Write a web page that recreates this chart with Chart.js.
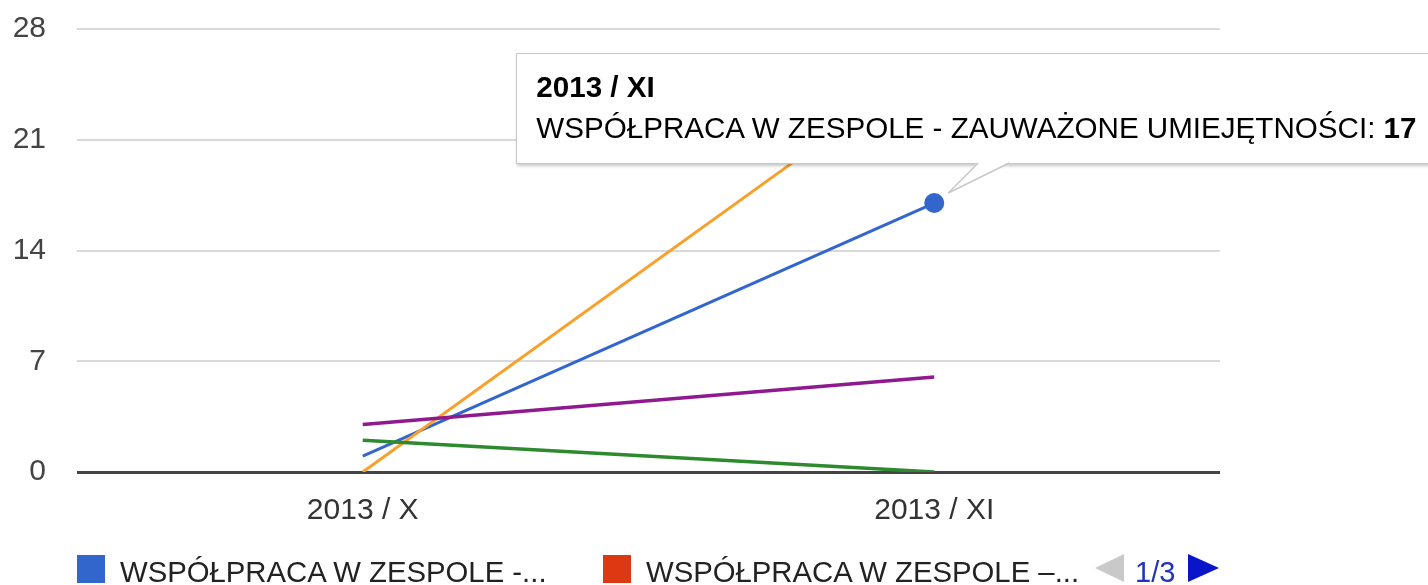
<!DOCTYPE html>
<html><head><meta charset="utf-8">
<script src="https://cdn.jsdelivr.net/npm/chart.js@4/dist/chart.umd.min.js"></script>
<style>
html,body{margin:0;padding:0;background:#fff;overflow:hidden;width:1428px;height:585px;}
#wrap{position:relative;width:1428px;height:585px;font-family:Arial,"Liberation Sans",sans-serif;overflow:hidden;}
#c{position:absolute;left:0;top:0;}
#tipBox{position:absolute;display:none;background:#fff;border:1px solid #c8c8c8;box-shadow:1px 2px 3px rgba(0,0,0,0.22);padding:12px 19px 15px 19px;white-space:nowrap;font-size:29.6px;line-height:41px;color:#000;}
#tipTitle{font-weight:bold;}
#tipTail{position:absolute;left:0;top:0;pointer-events:none;}
.lgBox{position:absolute;top:555px;width:28px;height:28px;}
.lgText{position:absolute;top:557px;font-size:29.3px;line-height:30px;color:#222;white-space:nowrap;}
#pgPrev{position:absolute;left:1095px;top:554px;width:0;height:0;border-top:14px solid transparent;border-bottom:14px solid transparent;border-right:29px solid #c9c9c9;}
#pgText{position:absolute;left:1135px;top:557px;font-size:29px;line-height:30px;color:#2233bb;}
#pgNext{position:absolute;left:1188px;top:554px;width:0;height:0;border-top:14px solid transparent;border-bottom:14px solid transparent;border-left:31px solid #0a14c8;}
</style></head><body>
<div id="wrap">
<canvas id="c" width="1428" height="585"></canvas>
<div id="legend"></div>
<div id="tipBox"><div id="tipTitle"></div><div id="tipBody"><span id="tipLabel"></span><b id="tipVal"></b></div></div>
<svg id="tipTail" width="1428" height="585"></svg>
</div>
<script>
// ---- data ----
const categories = ['2013 / X', '2013 / XI'];
const seriesNames = [
  'WSPÓŁPRACA W ZESPOLE - ZAUWAŻONE UMIEJĘTNOŚCI',
  'WSPÓŁPRACA W ZESPOLE –...',
  'Seria 3',
  'Seria 4',
  'Seria 5'
];
const blueValues = [1, 17];
const redValues = [null, null];
const orangeValues = [0, 26];
const greenValues = [2, 0];
const purpleValues = [3, 6];
const yTicks = [0, 7, 14, 21, 28];
const legendTexts = ['WSPÓŁPRACA W ZESPOLE -...', 'WSPÓŁPRACA W ZESPOLE –...'];
const legendPage = '1/3';
const activeSeries = 0;
const activeIndex = 1;

// ---- styles ----
const colors = ['#3366cc', '#dc3912', '#f7a02a', '#2e8a2e', '#8e1a8e'];
const FONT = 'Arial, "Liberation Sans", sans-serif';

const allValues = [blueValues, redValues, orangeValues, greenValues, purpleValues];
const widths = [3, 3, 3, 3.5, 3.5];

const datasets = allValues.map((vals, i) => ({
  label: seriesNames[i],
  data: vals,
  borderColor: colors[i],
  backgroundColor: colors[i],
  borderWidth: widths[i],
  pointRadius: 0,
  pointHoverRadius: i === activeSeries ? 10 : 0,
  pointHoverBorderWidth: 0,
  pointHoverBackgroundColor: colors[i],
  tension: 0,
  fill: false,
  order: allValues.length - i
}));

function renderTip(context) {
  const {chart, tooltip} = context;
  const box = document.getElementById('tipBox');
  const svg = document.getElementById('tipTail');
  if (!tooltip.dataPoints || tooltip.dataPoints.length === 0) { box.style.display = 'none'; svg.innerHTML = ''; return; }
  const dp = tooltip.dataPoints[0];
  document.getElementById('tipTitle').textContent = tooltip.title[0];
  document.getElementById('tipLabel').textContent = dp.dataset.label + ': ';
  document.getElementById('tipVal').textContent = dp.formattedValue;
  const cx = chart.canvas.offsetLeft + tooltip.caretX;
  const cy = chart.canvas.offsetTop + tooltip.caretY;
  box.style.display = 'block';
  box.style.left = (cx - 418) + 'px';
  box.style.top = (cy - 150) + 'px';
  const bottom = (cy - 150) + box.offsetHeight;
  const x1 = cx + 44, x2 = cx + 75, tx = cx + 14, ty = cy - 10;
  svg.innerHTML =
    '<polygon points="' + (x1) + ',' + (bottom - 2) + ' ' + tx + ',' + ty + ' ' + x2 + ',' + (bottom - 2) + '" fill="#fff"/>' +
    '<line x1="' + x1 + '" y1="' + (bottom - 1) + '" x2="' + tx + '" y2="' + ty + '" stroke="#c8c8c8" stroke-width="1.5"/>' +
    '<line x1="' + x2 + '" y1="' + (bottom - 1) + '" x2="' + tx + '" y2="' + ty + '" stroke="#c8c8c8" stroke-width="1.5"/>';
}

const chart = new Chart(document.getElementById('c'), {
  type: 'line',
  data: {labels: categories, datasets: datasets},
  options: {
    responsive: false,
    animation: false,
    events: [],
    layout: {padding: {top: 29, right: 208, left: 0, bottom: 0}},
    scales: {
      x: {
        offset: true,
        grid: {display: false, drawTicks: false},
        border: {display: false},
        ticks: {font: {size: 30, family: FONT}, color: '#333', padding: 21, maxRotation: 0},
        afterFit(s) { s.height = 113; }
      },
      y: {
        min: 0, max: 28,
        afterBuildTicks(s) { s.ticks = yTicks.map(v => ({value: v})); },
        grid: {
          drawTicks: false,
          color: c => c.tick && c.tick.value === 0 ? '#444' : '#d9d9d9',
          lineWidth: c => c.tick && c.tick.value === 0 ? 3 : 2
        },
        border: {display: false},
        ticks: {font: {size: 30, family: FONT}, color: '#444', padding: 31},
        afterFit(s) { s.width = 77; s.paddingTop = 0; s.paddingBottom = 0; }
      }
    },
    plugins: {
      legend: {display: false},
      tooltip: {enabled: false, mode: 'nearest', intersect: false, external: renderTip}
    }
  }
});

// HTML legend (first page of three)
const lg = document.getElementById('legend');
const lgLeft = [77, 603];
legendTexts.forEach((t, i) => {
  const b = document.createElement('div');
  b.className = 'lgBox';
  b.style.left = lgLeft[i] + 'px';
  b.style.background = chart.data.datasets[i].borderColor;
  lg.appendChild(b);
  const s = document.createElement('div');
  s.className = 'lgText';
  s.style.left = (lgLeft[i] + 43) + 'px';
  s.textContent = t;
  lg.appendChild(s);
});
const pp = document.createElement('div'); pp.id = 'pgPrev'; lg.appendChild(pp);
const pt = document.createElement('div'); pt.id = 'pgText'; pt.textContent = legendPage; lg.appendChild(pt);
const pn = document.createElement('div'); pn.id = 'pgNext'; lg.appendChild(pn);

// activate the hovered point and its tooltip
const act = [{datasetIndex: activeSeries, index: activeIndex}];
chart.setActiveElements(act);
const el = chart.getDatasetMeta(activeSeries).data[activeIndex];
chart.tooltip.setActiveElements(act, {x: el.x, y: el.y});
chart.update();
</script>
</body></html>
